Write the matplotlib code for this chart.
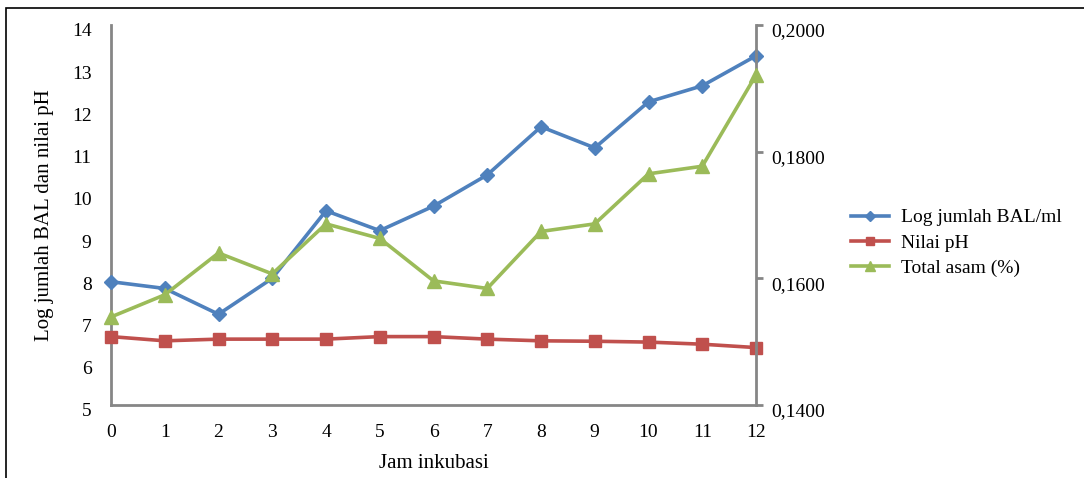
import numpy as np
import matplotlib
matplotlib.use('Agg')
import matplotlib.pyplot as plt
import matplotlib.transforms as mtransforms
from matplotlib.patches import Rectangle

plt.rcParams['font.family'] = ['Liberation Serif', 'DejaVu Serif']

# data
jam = [0, 1, 2, 3, 4, 5, 6, 7, 8, 9, 10, 11, 12]
log_bal = [7.92, 7.76, 7.15, 8.00, 9.60, 9.13, 9.71, 10.45, 11.59, 11.09, 12.18, 12.56, 13.27]
nilai_ph = [6.62, 6.52, 6.56, 6.56, 6.56, 6.62, 6.62, 6.56, 6.52, 6.51, 6.49, 6.44, 6.36]
total_asam = [0.1539, 0.1574, 0.1640, 0.1607, 0.1686, 0.1663, 0.1596, 0.1584, 0.1674, 0.1686, 0.1765, 0.1777, 0.1921]

left_ticks = [5, 6, 7, 8, 9, 10, 11, 12, 13, 14]
right_ticks = [0.14, 0.16, 0.18, 0.20]
right_labels = ['0,1400', '0,1600', '0,1800', '0,2000']

blue = '#4F81BD'
red = '#C0504D'
green = '#9BBB59'
axcol = '#868686'

W, H = 1084, 478
fig = plt.figure(figsize=(W / 100, H / 100), dpi=100)
ax = fig.add_axes([111 / W, 1 - 405 / H, (756 - 111) / W, (405 - 25) / H])
ax2 = ax.twinx()

# outer frame (only left and top visible)
fig.patches.append(Rectangle((6 / W, -0.1), 1.2, 1 - 8 / H + 0.1, transform=fig.transFigure,
                             fill=False, edgecolor='black', linewidth=1.2))

l1, = ax.plot(jam, log_bal, color=blue, lw=2.6, marker='D', ms=7, clip_on=False, zorder=4,
              label='Log jumlah BAL/ml')
l2, = ax.plot(jam, nilai_ph, color=red, lw=2.6, marker='s', ms=8, clip_on=False, zorder=4,
              label='Nilai pH')
l3, = ax2.plot(jam, total_asam, color=green, lw=2.6, marker='^', ms=10, clip_on=False, zorder=4,
               label='Total asam (%)')

ax.set_xlim(0, 12)
ax.set_ylim(5, 14)
ax2.set_ylim(0.14, 0.20)
ax.set_xticks(jam)
ax.set_yticks(left_ticks)
ax2.set_yticks(right_ticks)
ax2.set_yticklabels(right_labels)

for a in (ax, ax2):
    for s in a.spines.values():
        s.set_visible(False)
ax.spines['left'].set_visible(True)
ax.spines['bottom'].set_visible(True)
ax2.spines['right'].set_visible(True)
for s in (ax.spines['left'], ax.spines['bottom'], ax2.spines['right']):
    s.set_color(axcol)
    s.set_linewidth(2)

ax.tick_params(axis='y', length=0, labelsize=14, pad=14)
ax.tick_params(axis='x', length=0, labelsize=14, pad=14)
ax2.tick_params(axis='y', length=5, width=2, color=axcol, labelsize=14, pad=6)

# labels sit a bit below their ticks in the reference
off = mtransforms.ScaledTranslation(0, -5 / 100, fig.dpi_scale_trans)
for lab in ax.get_yticklabels() + ax2.get_yticklabels():
    lab.set_transform(lab.get_transform() + off)

ax.set_xlabel('Jam inkubasi', fontsize=15, labelpad=9)
ax.set_ylabel('Log jumlah BAL dan nilai pH', fontsize=15, labelpad=13)

fig.legend(handles=[l1, l2, l3], loc='center left', bbox_to_anchor=(833 / W, 1 - 243 / H),
           frameon=False, fontsize=14, handlelength=2.0, handletextpad=0.6,
           labelspacing=0.4, markerscale=0.7)

fig.savefig('out.png', dpi=100)
